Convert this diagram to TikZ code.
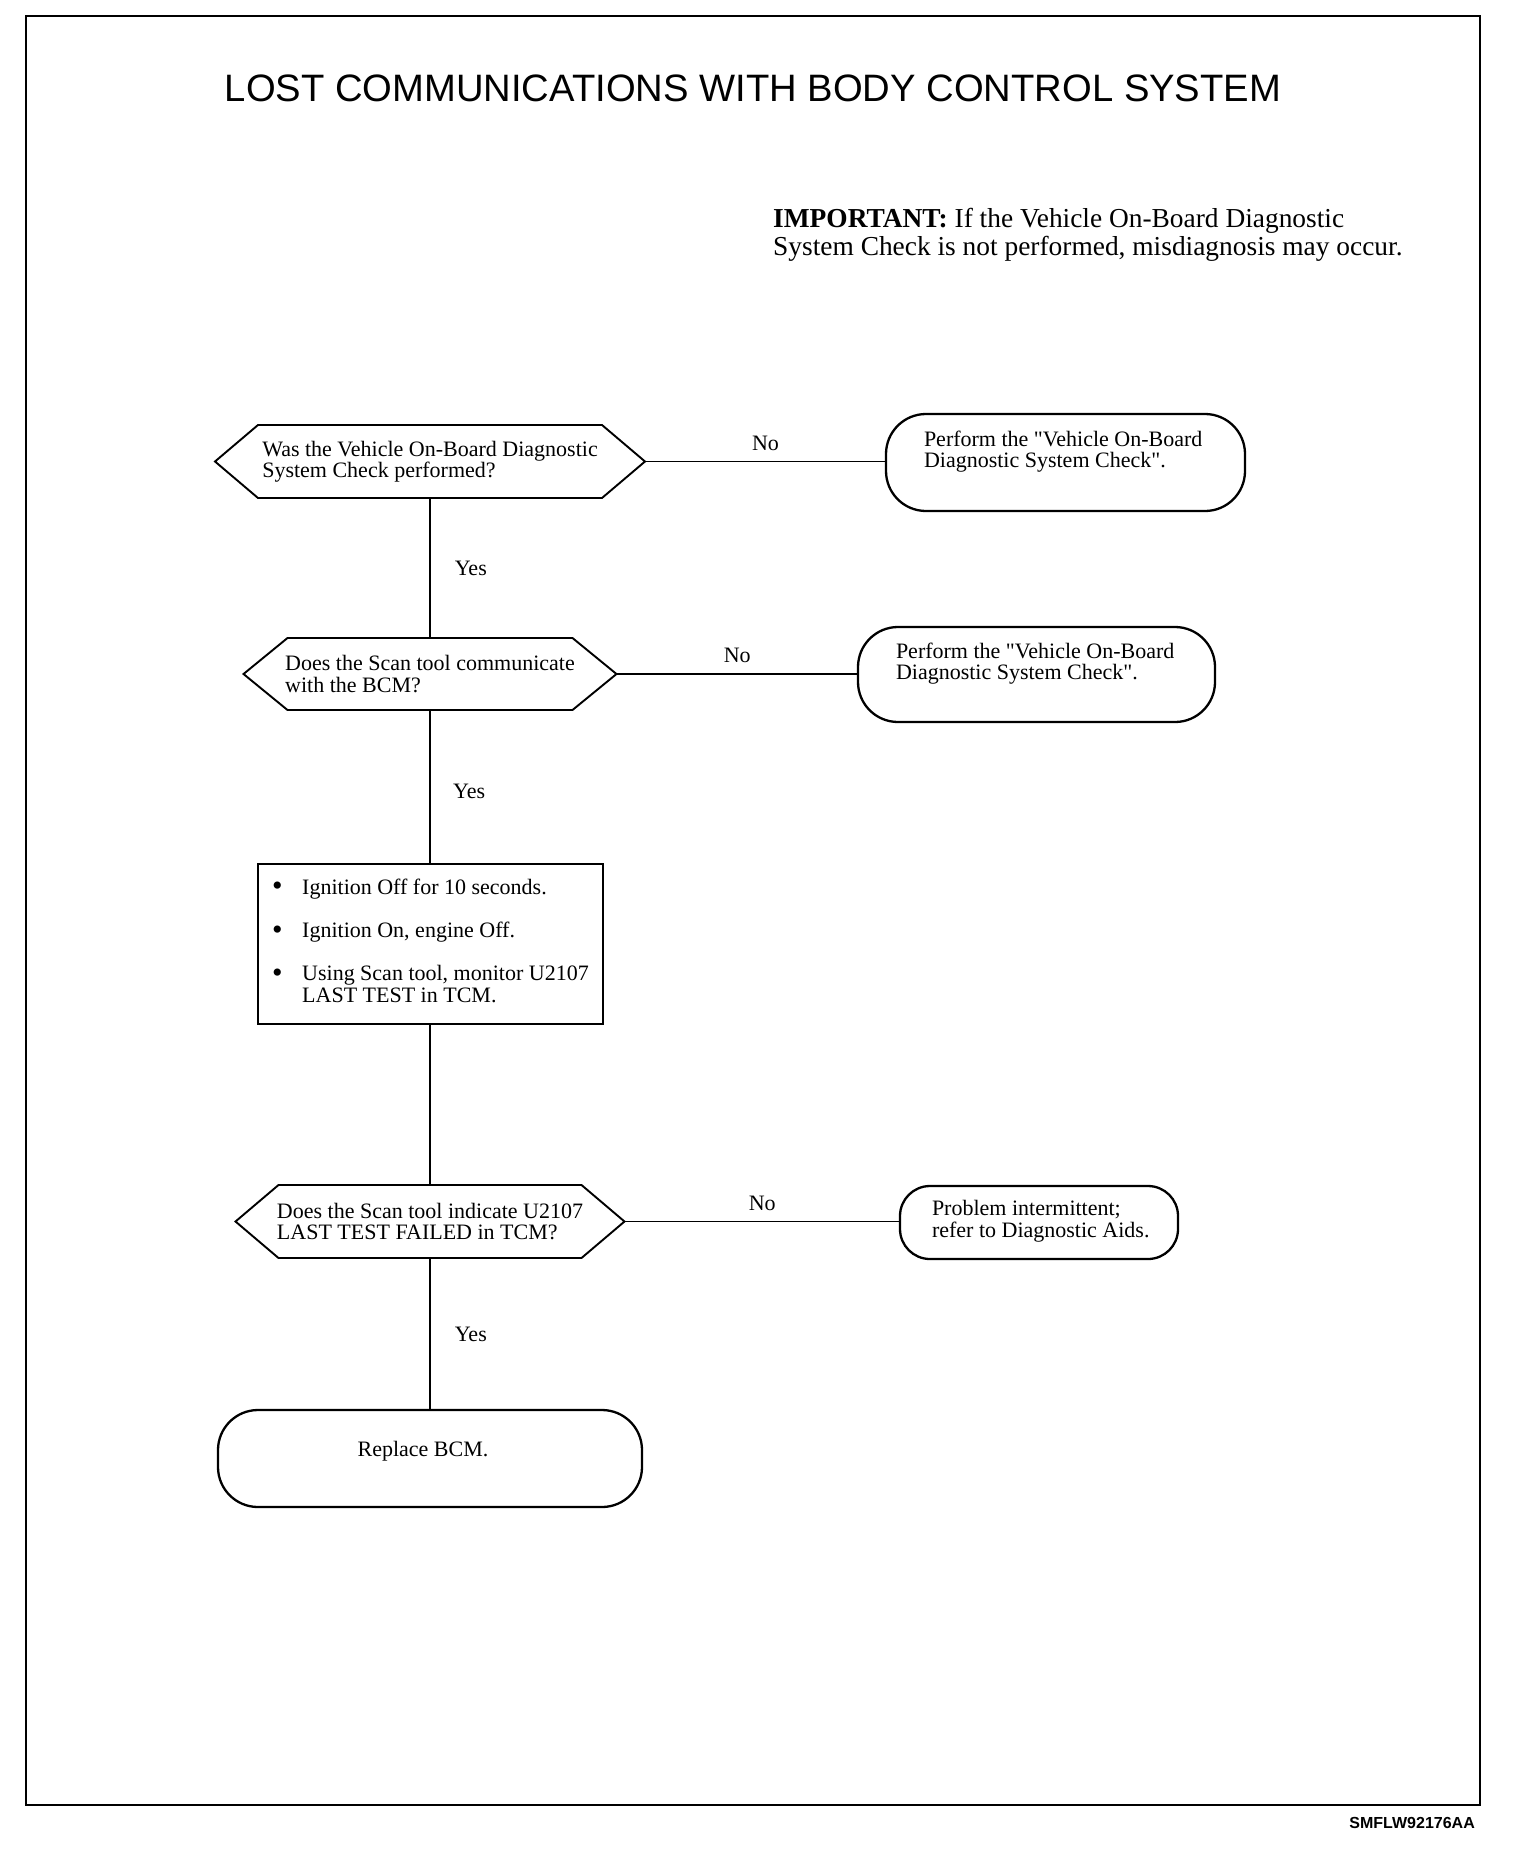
\documentclass[tikz,border=0pt]{standalone}
\usepackage{fontspec}
\setmainfont{Liberation Serif}
\newfontfamily\sansf{Liberation Sans}
\newcommand{\sq}{\XeTeXglyph\XeTeXglyphindex "quotedbl"\relax}
\newcommand{\bigbul}{{\fontsize{30}{22}\selectfont\raisebox{-1.5pt}{\textbullet}}}
\begin{document}
\begin{tikzpicture}[x=1pt,y=-1pt,
  txt/.style={font=\fontsize{22}{21.5}\selectfont, align=left, inner sep=0pt, outer sep=0pt},
  hexnode/.style={txt, align=left, minimum height=73pt},
  shapeline/.style={line width=1.9pt},
  term/.style={draw, line width=2.3pt, rounded corners=40pt, inner sep=0pt, outer sep=0pt},
  conn/.style={line width=1.6pt},
  lbl/.style={font=\fontsize{22}{22}\selectfont, inner sep=0pt}
]
\useasboundingbox (0,0) rectangle (1520,1852);
\draw[line width=2pt] (26,16.5) rectangle (1480,1805);

\node[font=\sansf\fontsize{38.2}{40}\selectfont, inner sep=0pt] (title) at (753,88.5)
  {LOST COMMUNICATIONS WITH BODY CONTROL SYSTEM};

\node[font=\fontsize{27.4}{28.3}\selectfont, align=left, anchor=west, inner sep=0pt] (imp) at (773,235)
  {\textbf{IMPORTANT:} If the Vehicle On-Board Diagnostic\\System Check is not performed, misdiagnosis may occur.};

% Hexagon 1
\node[hexnode, minimum width=430pt] (h1) at (430,461.5)
  {Was the Vehicle On-Board Diagnostic\\System Check performed?};
\draw[shapeline] (h1.west) -- ([xshift=43pt]h1.north west) -- ([xshift=-43pt]h1.north east)
  -- (h1.east) -- ([xshift=-43pt]h1.south east) -- ([xshift=43pt]h1.south west) -- cycle;

% Terminal 1
\node[term, minimum width=359pt, minimum height=97pt] (t1) at (1065.5,462.5) {};
\node[txt, anchor=west] (t1txt) at (924,451.5)
  {Perform the \sq Vehicle On-Board\\Diagnostic System Check\sq.};

% Hexagon 2
\node[hexnode, minimum width=373pt, minimum height=72pt] (h2) at (430,674)
  {Does the Scan tool communicate\\with the BCM?};
\draw[shapeline] (h2.west) -- ([xshift=44pt]h2.north west) -- ([xshift=-44pt]h2.north east)
  -- (h2.east) -- ([xshift=-44pt]h2.south east) -- ([xshift=44pt]h2.south west) -- cycle;

% Terminal 2
\node[term, minimum width=357pt, minimum height=95pt] (t2) at (1036.5,674.5) {};
\node[txt, anchor=west] (t2txt) at (896,663.5)
  {Perform the \sq Vehicle On-Board\\Diagnostic System Check\sq.};

% Action box
\node[draw, line width=2pt, minimum width=345pt, minimum height=160pt, inner sep=0pt, outer sep=0pt,
  font=\fontsize{22}{22}\selectfont] (box) at (430.5,944)
  {\begin{tabular}{@{}p{30pt}@{}l@{}}
   \bigbul & Ignition Off for 10 seconds.\\[21pt]
   \bigbul & Ignition On, engine Off.\\[21pt]
   \bigbul & Using Scan tool, monitor U2107\\
               & LAST TEST in TCM.
   \end{tabular}};

% Hexagon 3
\node[hexnode, minimum width=389pt] (h3) at (430,1221.5)
  {Does the Scan tool indicate U2107\\LAST TEST FAILED in TCM?};
\draw[shapeline] (h3.west) -- ([xshift=43pt]h3.north west) -- ([xshift=-43pt]h3.north east)
  -- (h3.east) -- ([xshift=-43pt]h3.south east) -- ([xshift=43pt]h3.south west) -- cycle;

% Terminal 3
\node[term, rounded corners=30pt, minimum width=278pt, minimum height=73pt] (t3) at (1039,1222.5) {};
\node[txt, anchor=west] (t3txt) at (932,1221)
  {Problem intermittent;\\refer to Diagnostic Aids.};

% Terminal 4
\node[term, minimum width=424pt, minimum height=97pt] (t4) at (430,1458.5) {};
\node[txt] (t4txt) at (423,1451) {Replace BCM.};

% Connectors
\draw[conn] (h1.east) -- (h1.east -| t1.west) node[lbl, midway, above=10pt] (no1) {No};
\draw[conn] (h2.east) -- (h2.east -| t2.west) node[lbl, midway, above=10pt] (no2) {No};
\draw[conn] (h3.east) -- (h3.east -| t3.west) node[lbl, midway, above=10pt] (no3) {No};
\draw[conn] (h1.south) -- (h2.north) node[lbl, midway, right=24pt] (yes1) {Yes};
\draw[conn] (h2.south) -- (box.north -| h2.south);
\draw[conn] (box.south -| h3.north) -- (h3.north);
\draw[conn] (h3.south) -- (t4.north) node[lbl, midway, right=24pt] (yes3) {Yes};
\node[lbl, anchor=west] (yes2) at (453,791) {Yes};

\node[font=\sansf\bfseries\fontsize{16}{16}\selectfont, anchor=east, inner sep=0pt] (code) at (1475,1823) {SMFLW92176AA};
\end{tikzpicture}
\end{document}
